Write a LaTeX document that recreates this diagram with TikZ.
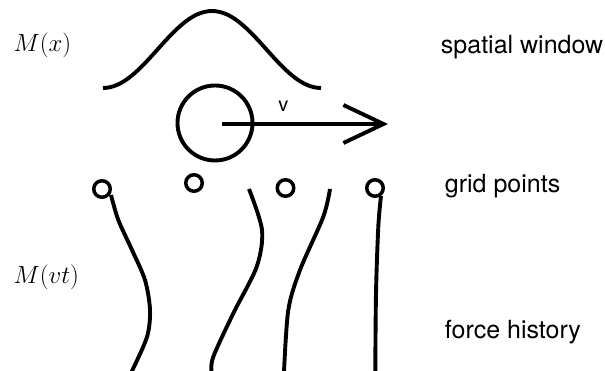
\documentclass[tikz,border=0pt]{standalone}
\usepackage{fontspec}
\setmainfont{TeX Gyre Heros}
\usetikzlibrary{arrows.meta}
\begin{document}
\begin{tikzpicture}[x=1pt, y=-1pt, line width=3.9pt,
  every node/.style={font=\fontsize{25}{30}\selectfont},
  lbl/.style={anchor=base west, inner sep=0pt},
  gridpt/.style={circle, draw, line width=3.5pt, minimum size=16.5pt, inner sep=0pt},
  body/.style={circle, draw, line width=3.9pt, minimum size=75pt, inner sep=0pt}]
\useasboundingbox (0,0) rectangle (605,371);
\draw (103,88) .. controls (143,88) and (172,11) .. (212,11) .. controls (252,11) and (281,88) .. (321,88);
\node[body] (ball) at (215,123) {};
\coordinate (vs) at (222,124);
\coordinate (ve) at (388,124);
\draw[-{Straight Barb[length=40pt,width=38pt]}] (vs) -- (ve);
\node[lbl, font=\fontsize{20}{24}\selectfont] (vlab) at (276.5,111.7) {v};
\node[gridpt] (g1) at (102,189) {};
\node[gridpt] (g2) at (194,183) {};
\node[gridpt] (g3) at (285.5,188) {};
\node[gridpt] (g4) at (375,188) {};
\draw plot[smooth] coordinates {(111,195) (118.3,220) (132,250) (145,280) (150,310) (147,337) (131.5,372)};
\draw plot[smooth] coordinates {(249,189) (262,230) (256.7,266.7) (233.3,313.3) (213.3,356.7) (211.5,372)};
\draw plot[smooth] coordinates {(330,189) (323.3,216.7) (300,270) (288.3,310) (284,372)};
\draw plot[smooth] coordinates {(381,196) (378.3,226.7) (376,293) (375.3,372)};
\node[lbl] (mx) at (11.7,51.7) {$M(x)$};
\node[lbl] (mvt) at (11.7,284) {$M(vt)$};
\node[lbl] (sw) at (439,53.3) {spatial window};
\node[lbl] (gp) at (443,192.3) {grid points};
\node[lbl] (fh) at (443,338) {force history};
\end{tikzpicture}
\end{document}
